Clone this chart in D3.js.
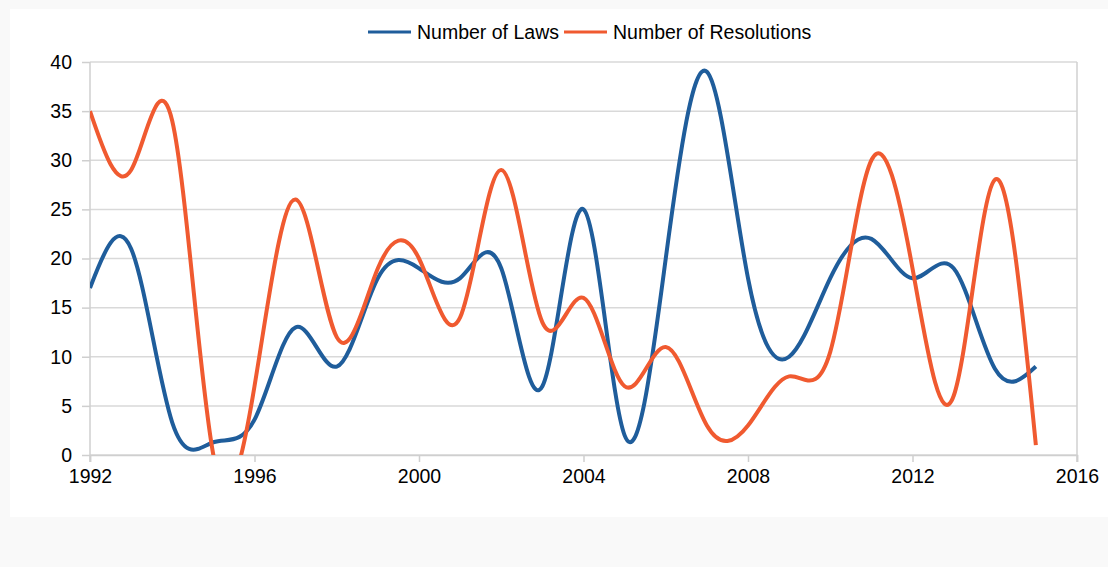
<!DOCTYPE html>
<html>
<head>
<meta charset="utf-8">
<script src="https://cdn.jsdelivr.net/npm/d3@7"></script>
<style>
  html, body { margin: 0; padding: 0; background: #f8f8f8; }
  svg { display: block; }
  text { font-family: "Liberation Sans", Arial, sans-serif; fill: #000; }
</style>
</head>
<body>
<svg id="chart" width="1108" height="567"></svg>
<script>
const years = [1992,1993,1994,1995,1996,1997,1998,1999,2000,2001,2002,2003,2004,2005,2006,2007,2008,2009,2010,2011,2012,2013,2014,2015];
const laws = [17,21,3.3,1.3,3.6,13,9,18,19,18,19,7,25,2,20,39,18,10,18,22,18,19,8.8,9];
const resolutions = [35,29,34,0,7,26,12,19,20,14,29,13.5,16,7,11,3,3,8,10.5,30,19,6,28,1];
const xTicks = [1992,1996,2000,2004,2008,2012,2016];
const yTicks = [0,5,10,15,20,25,30,35,40];
const seriesNames = ["Number of Laws","Number of Resolutions"];
const seriesColors = ["#1f5d9b","#f05a30"];

(function(){
const svg = d3.select("#chart");
const W = 1108, H = 567;
const pL = 90, pR = 1077, pT = 62, pB = 455;

svg.append("rect").attr("x",0).attr("y",0).attr("width",W).attr("height",H).attr("fill","#f9f9f9");
svg.append("rect").attr("x",10).attr("y",9).attr("width",W-10).attr("height",508).attr("fill","#ffffff");

const x = d3.scaleLinear().domain([1992,2016]).range([pL,pR]);
const y = d3.scaleLinear().domain([0,40]).range([pB,pT]);

svg.append("g").selectAll("line").data(yTicks).join("line")
  .attr("x1",pL).attr("x2",pR)
  .attr("y1",d=>y(d)).attr("y2",d=>y(d))
  .attr("stroke","#d9d9d9").attr("stroke-width",1.5);

svg.append("line").attr("x1",pR).attr("x2",pR).attr("y1",pT).attr("y2",pB+7)
  .attr("stroke","#d0d0d0").attr("stroke-width",1.5);
svg.append("line").attr("x1",pL).attr("x2",pL).attr("y1",pT).attr("y2",pB+7)
  .attr("stroke","#cfcfcf").attr("stroke-width",1.5);

const yAxis = d3.axisLeft(y).tickValues(yTicks).tickSize(8).tickPadding(10).tickFormat(d3.format("d"));
const gy = svg.append("g").attr("transform",`translate(${pL},0)`).call(yAxis);
gy.select(".domain").remove();
gy.selectAll(".tick line").attr("stroke","#cfcfcf").attr("stroke-width",1.5);
gy.selectAll(".tick text").attr("font-size",19.5).attr("font-family","Liberation Sans, Arial, sans-serif").attr("fill","#000");

const xAxis = d3.axisBottom(x).tickValues(xTicks).tickSize(7).tickPadding(7).tickFormat(d3.format("d"));
const gx = svg.append("g").attr("transform",`translate(0,${pB})`).call(xAxis);
gx.select(".domain").attr("stroke","#cfcfcf").attr("stroke-width",1.5);
gx.selectAll(".tick line").attr("stroke","#cfcfcf").attr("stroke-width",1.5);
gx.selectAll(".tick text").attr("font-size",19.5).attr("font-family","Liberation Sans, Arial, sans-serif").attr("fill","#000");

svg.append("clipPath").attr("id","plotclip").append("rect")
  .attr("x",pL).attr("y",pT-5).attr("width",pR-pL).attr("height",pB-pT+5);

const line = d3.line().x(d=>x(d[0])).y(d=>y(d[1])).curve(d3.curveNatural);
const series = [laws, resolutions];
const g = svg.append("g").attr("clip-path","url(#plotclip)");
series.forEach((vals,i)=>{
  g.append("path")
    .datum(years.map((yr,j)=>[yr,vals[j]]))
    .attr("d",line)
    .attr("fill","none")
    .attr("stroke",seriesColors[i])
    .attr("stroke-width",4)
    .attr("stroke-linejoin","round")
    .attr("stroke-linecap","butt");
});

const legendItems = [{x:368,name:seriesNames[0],c:seriesColors[0]},{x:564,name:seriesNames[1],c:seriesColors[1]}];
const lg = svg.append("g");
legendItems.forEach(it=>{
  lg.append("line").attr("x1",it.x).attr("x2",it.x+43).attr("y1",32).attr("y2",32)
    .attr("stroke",it.c).attr("stroke-width",3);
  lg.append("text").attr("x",it.x+49).attr("y",32).attr("dy","0.35em")
    .attr("font-size",19.5).text(it.name);
});
})();
</script>
</body>
</html>
